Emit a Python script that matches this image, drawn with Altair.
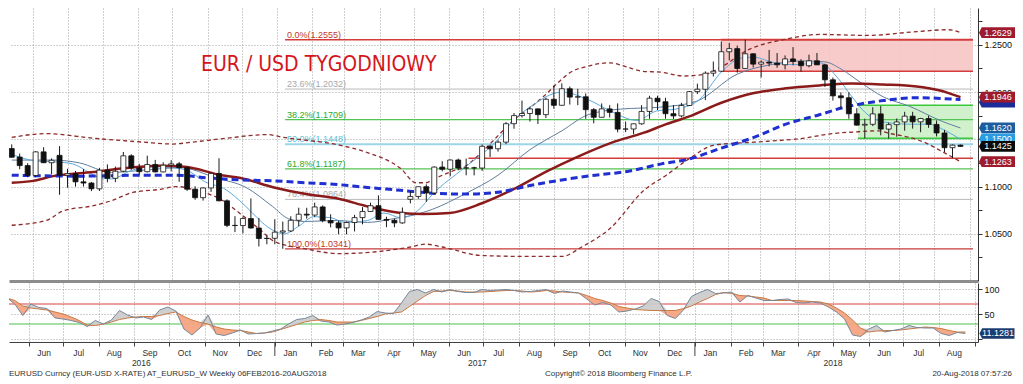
import altair as alt
import pandas as pd
import numpy as np

# ---------------- layout ----------------
W, HT, HB = 969, 273, 59
BASE = pd.Timestamp("2017-01-06")          # week index 0 (Friday)
END = pd.Timestamp("2018-09-04")


def wk(k):
    return BASE + pd.to_timedelta(np.asarray(k, dtype=float) * 7, unit="D")


# ---------------- candles (weekly, week index -34 .. 85) ----------------
weeks = list(range(-34, 86))
opens = [1.1402, 1.1312, 1.1222, 1.1117, 1.1367, 1.1252, 1.1330, 1.1118, 1.1136, 1.1050,
         1.1037, 1.0976, 1.1174, 1.1087, 1.1162, 1.1325, 1.1197, 1.1157, 1.1233, 1.1155,
         1.1226, 1.1240, 1.1200, 1.0972, 1.0882, 1.0985, 1.1139, 1.0849, 1.0589, 1.0587,
         1.0661, 1.0561, 1.0450, 1.0452, 1.0517, 1.0530, 1.0643, 1.0707, 1.0698, 1.0784,
         1.0640, 1.0615, 1.0562, 1.0619, 1.0671, 1.0736, 1.0797, 1.0652, 1.0643, 1.0615,
         1.0865, 1.0895, 1.0998, 1.0932, 1.1206, 1.1183, 1.1281, 1.1196, 1.1198, 1.1196,
         1.1426, 1.1400, 1.1470, 1.1665, 1.1751, 1.1773, 1.1822, 1.1761, 1.1924, 1.1860,
         1.2035, 1.1947, 1.1950, 1.1814, 1.1733, 1.1822, 1.1785, 1.1608, 1.1609, 1.1664,
         1.1795, 1.1935, 1.1898, 1.1771, 1.1748, 1.1858, 1.2005, 1.2030, 1.2200, 1.2221,
         1.2427, 1.2460, 1.2250, 1.2405, 1.2296, 1.2317, 1.2307, 1.2289, 1.2351, 1.2324,
         1.2279, 1.2331, 1.2288, 1.2130, 1.1960, 1.1940, 1.1770, 1.1650, 1.1659, 1.1769,
         1.1608, 1.1655, 1.1684, 1.1745, 1.1685, 1.1720, 1.1658, 1.1567, 1.1411, 1.1438]
highs = [1.1446, 1.1349, 1.1247, 1.1374, 1.1416, 1.1298, 1.1428, 1.1188, 1.1165, 1.1185,
         1.1048, 1.1198, 1.1234, 1.1212, 1.1366, 1.1341, 1.1240, 1.1327, 1.1282, 1.1257,
         1.1279, 1.1260, 1.1210, 1.1003, 1.0990, 1.1146, 1.1300, 1.0865, 1.0686, 1.0677,
         1.0874, 1.0668, 1.0480, 1.0654, 1.0629, 1.0685, 1.0776, 1.0775, 1.0829, 1.0800,
         1.0706, 1.0640, 1.0630, 1.0700, 1.0782, 1.0829, 1.0906, 1.0680, 1.0660, 1.0778,
         1.0951, 1.0999, 1.1023, 1.1213, 1.1268, 1.1285, 1.1296, 1.1296, 1.1209, 1.1445,
         1.1445, 1.1490, 1.1683, 1.1777, 1.1910, 1.1845, 1.1826, 1.1941, 1.2070, 1.2092,
         1.2059, 1.2034, 1.1985, 1.1830, 1.1880, 1.1861, 1.1880, 1.1688, 1.1666, 1.1861,
         1.1961, 1.1961, 1.1940, 1.1863, 1.1886, 1.2012, 1.2089, 1.2219, 1.2323, 1.2536,
         1.2520, 1.2492, 1.2555, 1.2412, 1.2336, 1.2446, 1.2413, 1.2388, 1.2476, 1.2348,
         1.2396, 1.2414, 1.2300, 1.2154, 1.1996, 1.1997, 1.1830, 1.1718, 1.1840, 1.1852,
         1.1676, 1.1720, 1.1791, 1.1791, 1.1727, 1.1750, 1.1700, 1.1600, 1.1445, 1.1445]
lows = [1.1308, 1.1183, 1.1098, 1.1098, 1.1250, 1.1131, 1.0912, 1.0987, 1.0999, 1.1000,
        1.0952, 1.0953, 1.1045, 1.1046, 1.1151, 1.1176, 1.1123, 1.1150, 1.1150, 1.1150,
        1.1160, 1.1050, 1.0954, 1.0860, 1.0851, 1.0943, 1.0844, 1.0569, 1.0518, 1.0505,
        1.0554, 1.0366, 1.0389, 1.0389, 1.0341, 1.0519, 1.0580, 1.0660, 1.0678, 1.0622,
        1.0568, 1.0495, 1.0494, 1.0525, 1.0600, 1.0733, 1.0649, 1.0570, 1.0570, 1.0606,
        1.0822, 1.0870, 1.0839, 1.0911, 1.1161, 1.1109, 1.1172, 1.1119, 1.1118, 1.1166,
        1.1312, 1.1370, 1.1448, 1.1612, 1.1730, 1.1688, 1.1662, 1.1725, 1.1823, 1.1858,
        1.1868, 1.1861, 1.1717, 1.1669, 1.1730, 1.1731, 1.1574, 1.1576, 1.1553, 1.1654,
        1.1717, 1.1810, 1.1718, 1.1716, 1.1733, 1.1852, 1.1979, 1.1915, 1.2165, 1.2212,
        1.2335, 1.2206, 1.2245, 1.2260, 1.2154, 1.2272, 1.2257, 1.2240, 1.2284, 1.2215,
        1.2262, 1.2287, 1.2055, 1.1910, 1.1823, 1.1717, 1.1646, 1.1510, 1.1640, 1.1542,
        1.1508, 1.1527, 1.1591, 1.1613, 1.1575, 1.1621, 1.1530, 1.1365, 1.1301, 1.1420]
closes = [1.1310, 1.1222, 1.1117, 1.1367, 1.1252, 1.1278, 1.1118, 1.1136, 1.1050, 1.1037,
          1.0976, 1.1174, 1.1087, 1.1162, 1.1325, 1.1197, 1.1157, 1.1233, 1.1155, 1.1226,
          1.1240, 1.1200, 1.0972, 1.0882, 1.0985, 1.1139, 1.0849, 1.0589, 1.0587, 1.0661,
          1.0561, 1.0450, 1.0452, 1.0517, 1.0530, 1.0643, 1.0707, 1.0698, 1.0784, 1.0640,
          1.0615, 1.0562, 1.0619, 1.0671, 1.0736, 1.0797, 1.0652, 1.0643, 1.0615, 1.0727,
          1.0895, 1.0998, 1.0932, 1.1206, 1.1183, 1.1281, 1.1196, 1.1198, 1.1196, 1.1426,
          1.1400, 1.1470, 1.1665, 1.1751, 1.1773, 1.1822, 1.1761, 1.1924, 1.1860, 1.2035,
          1.1947, 1.1950, 1.1814, 1.1733, 1.1822, 1.1785, 1.1608, 1.1609, 1.1664, 1.1795,
          1.1935, 1.1898, 1.1771, 1.1748, 1.1858, 1.2005, 1.2030, 1.2200, 1.2221, 1.2427,
          1.2460, 1.2250, 1.2405, 1.2296, 1.2317, 1.2307, 1.2289, 1.2351, 1.2324, 1.2279,
          1.2331, 1.2288, 1.2130, 1.1960, 1.1940, 1.1770, 1.1650, 1.1659, 1.1769, 1.1608,
          1.1655, 1.1684, 1.1745, 1.1685, 1.1720, 1.1658, 1.1567, 1.1411, 1.1438, 1.1425]

# ---------------- indicator lines (week index, value) ----------------
ub_k = [-34, -29.7, -23.6, -17.5, -13.8, -11.4, -7.2, -2.0, 0.1, 7.0, 10.6, 14.8, 16.7, 17.9, 19.2,
        21.2, 22.8, 24.9, 27.6, 29.2, 30.8, 32.8, 34.4, 36.1, 38.1, 41.0, 43.0, 45.1, 47.5, 50.2,
        53.0, 55.1, 58.2, 63.1, 67.3, 73.4, 79.5, 83.5, 85.0]
ub_v = [1.152, 1.156, 1.151, 1.147, 1.145, 1.147, 1.151, 1.155, 1.152, 1.144, 1.136, 1.119, 1.104,
        1.104, 1.109, 1.116, 1.121, 1.136, 1.159, 1.172, 1.182, 1.196, 1.209, 1.221, 1.227, 1.231,
        1.227, 1.222, 1.221, 1.217, 1.219, 1.227, 1.244, 1.256, 1.261, 1.260, 1.264, 1.266, 1.263]
lb_k = [-34, -29.7, -27.6, -23.6, -21.5, -18.7, -15.4, -13.3, -10.9, -7.7, -5.3, -2.8, -1.1, 2.9,
        7.0, 11.8, 16.0, 17.9, 20.0, 24.9, 31.0, 35.0, 37.5, 41.1, 45.3, 48.1, 50.9, 54.2, 59.1,
        65.2, 68.9, 72.2, 74.6, 76.2, 78.6, 80.7, 82.7, 85.0]
lb_v = [1.059, 1.064, 1.074, 1.080, 1.085, 1.094, 1.097, 1.100, 1.096, 1.086, 1.071, 1.054, 1.042,
        1.034, 1.029, 1.031, 1.036, 1.039, 1.036, 1.027, 1.026, 1.026, 1.036, 1.056, 1.096, 1.112,
        1.129, 1.144, 1.147, 1.151, 1.156, 1.158, 1.159, 1.156, 1.152, 1.146, 1.137, 1.1263]
fast_k = [-34, -30.9, -28.4, -26.4, -23.1, -21.5, -19.0, -16.6, -14.2, -12.3, -9.5, -7.4, -5.4, -3.8,
          -2.6, -1.3, 0.2, 2.0, 3.9, 6.0, 7.8, 10.6, 12.7, 14.8, 17.0, 18.8, 22.8, 27.0, 28.9, 31.0,
          35.0, 38.3, 41.1, 44.4, 46.9, 49.3, 52.1, 55.1, 57.5, 59.1, 61.2, 64.0, 67.3, 69.7, 71.3,
          73.1, 75.6, 78.6, 81.1, 82.9, 85.0]
fast_v = [1.134, 1.127, 1.126, 1.124, 1.110, 1.108, 1.117, 1.121, 1.120, 1.118, 1.104, 1.098, 1.085,
          1.072, 1.062, 1.054, 1.050, 1.058, 1.068, 1.067, 1.062, 1.064, 1.072, 1.067, 1.075, 1.092,
          1.120, 1.150, 1.170, 1.184, 1.200, 1.192, 1.180, 1.170, 1.180, 1.182, 1.191, 1.222, 1.236,
          1.237, 1.232, 1.229, 1.231, 1.214, 1.196, 1.178, 1.168, 1.166, 1.166, 1.160, 1.150]
slow_k = [-34, -28.8, -25.5, -21.5, -16.6, -12.9, -8.3, -4.6, -1.3, 0.7, 2.7, 6.8, 10.6, 13.9, 16.0,
          18.8, 22.8, 27.0, 31.0, 35.0, 38.3, 42.4, 47.3, 51.8, 57.0, 61.2, 65.2, 68.0, 70.1, 72.5,
          75.3, 78.6, 82.7, 85.0]
slow_v = [1.128, 1.128, 1.125, 1.115, 1.118, 1.120, 1.109, 1.099, 1.079, 1.066, 1.063, 1.064, 1.062,
          1.066, 1.069, 1.076, 1.092, 1.112, 1.139, 1.159, 1.176, 1.182, 1.184, 1.190, 1.219, 1.229,
          1.233, 1.232, 1.224, 1.210, 1.195, 1.185, 1.169, 1.162]
red_k = [-34, -31.3, -28.8, -25.5, -23.1, -20.3, -15.4, -12.3, -7.7, -5.3, -1.1, 2.9, 7.0, 10.6, 14.8,
         17.6, 20.9, 24.9, 28.9, 33.1, 37.1, 41.1, 45.3, 48.1, 50.9, 55.1, 59.1, 63.1, 67.3, 71.3,
         75.3, 79.5, 82.3, 85.0]
red_v = [1.104, 1.106, 1.111, 1.114, 1.116, 1.119, 1.122, 1.121, 1.112, 1.109, 1.099, 1.092, 1.087,
         1.079, 1.072, 1.071, 1.072, 1.082, 1.097, 1.116, 1.132, 1.146, 1.157, 1.166, 1.174, 1.189,
         1.199, 1.204, 1.207, 1.209, 1.208, 1.206, 1.202, 1.1946]
blue_k = [-34, -25.5, -17.5, -13.3, -9.3, -5.3, -1.1, 2.9, 7.0, 10.6, 14.8, 18.8, 22.8, 27.0, 31.0,
          35.0, 39.2, 43.2, 47.5, 50.9, 55.1, 59.1, 63.1, 67.3, 70.5, 72.2, 75.3, 79.5, 85.0]
blue_v = [1.112, 1.111, 1.112, 1.112, 1.109, 1.107, 1.106, 1.104, 1.102, 1.099, 1.096, 1.093, 1.092,
          1.094, 1.101, 1.107, 1.112, 1.116, 1.124, 1.129, 1.141, 1.152, 1.166, 1.176, 1.184, 1.187,
          1.191, 1.194, 1.192]

# ---------------- stochastic (weekly) ----------------
stoch_k = [83, 70, 47, 70, 63, 61, 42, 40, 37, 33,
           25, 37, 30, 38, 57, 48, 42, 44, 39, 58,
           64, 56, 20, 8, 22, 48, 10, 7, 12, 18,
           10, 11, 12, 16, 20, 30, 39, 41, 47, 36,
           34, 28, 30, 33, 38, 44, 55, 52, 51, 72,
           95, 99, 92, 99, 94, 99, 95, 93, 93, 99,
           97, 98, 99, 97, 94, 95, 97, 99, 91, 96,
           94, 92, 80, 68, 73, 68, 54, 56, 60, 66,
           81, 75, 47, 41, 58, 85, 93, 99, 91, 92,
           94, 74, 87, 82, 77, 77, 79, 80, 73, 72,
           74, 72, 64, 54, 40, 8, 5, 20, 27, 14,
           17, 20, 27, 23, 22, 22, 11, 7, 13, 11.13]
stoch_d = [82, 77, 66, 62, 60, 58, 54, 50, 44, 37,
           28, 27, 30, 34, 39, 42, 44, 45, 45, 47,
           51, 54, 45, 38, 33, 30, 24, 20, 18, 17,
           14, 11, 12, 14, 19, 24, 29, 34, 37, 39,
           37, 34, 34, 34, 37, 41, 45, 50, 52, 54,
           65, 76, 87, 95, 96, 97, 96, 94, 94, 94,
           95, 96, 97, 97, 96, 94, 95, 97, 96, 94,
           93, 92, 87, 81, 77, 72, 65, 62, 59, 58,
           57, 57, 57, 57, 61, 66, 74, 81, 89, 93,
           91, 87, 86, 84, 82, 77, 77, 77, 77, 76,
           75, 74, 70, 62, 52, 38, 22, 14, 16, 17,
           17, 18, 20, 22, 24, 23, 21, 17, 14, 14]

# ---------------- annotations ----------------
fib_labels = ["0.0%(1.2555)", "23.6%(1.2032)", "38.2%(1.1709)", "50.0%(1.1448)",
              "61.8%(1.1187)", "76.4%(1.0864)", "100.0%(1.0341)"]
fib_values = [1.2555, 1.2032, 1.1709, 1.1448, 1.1187, 1.0864, 1.0341]
fib_line_colors = ["#d43c3c", "#b8b8b8", "#55c455", "#9ad6e8", "#55c455", "#b8b8b8", "#c83a3a"]
fib_text_colors = ["#c0392b", "#a8a8a8", "#2ea82e", "#5cc2d6", "#2ea82e", "#a8a8a8", "#c0392b"]
fib_widths = [1.5, 1.0, 1.2, 2.0, 1.2, 1.0, 1.2]
fib_start = "2017-01-08"
support_value, support_start = 1.1300, "2017-06-18"
red_zone = {"start": "2018-01-26", "lo": 1.2220, "hi": 1.2555}
green_zone = {"start": "2018-05-26", "lo": 1.1510, "hi": 1.1860}

# right-hand value tags (an empty text = tag hidden under the next one, as in the original)
right_text = ["1.2629", "", "1.1946", "1.1620", "1.1500", "1.1425", "1.1263"]
right_value = [1.2629, 1.1893, 1.1946, 1.1620, 1.1503, 1.1425, 1.1263]
right_color = ["#9e1a2c", "#1b2b9a", "#9e1a2c", "#1f5c9e", "#2c9ce0", "#0a0a0a", "#9e1a2c"]

y_ticks = [1.025, 1.05, 1.075, 1.10, 1.125, 1.15, 1.175, 1.20, 1.225, 1.25, 1.275]
y_hidden_labels = [1.15]          # axis label covered by a value tag in the original
year_labels = ["2016", "2017", "2018"]
year_label_dates = ["2016-09-07", "2017-06-26", "2018-05-01"]
year_starts = ["2017-01-01", "2018-01-01"]
title_text = "EUR / USD TYGODNIOWY"
footer_left = "EURUSD Curncy (EUR-USD X-RATE) AT_EURUSD_W  Weekly 06FEB2016-20AUG2018"
footer_mid = "Copyright\u00a9 2018 Bloomberg Finance L.P."
footer_right = "20-Aug-2018 07:57:26"

# ---------------- scales & axes ----------------
FONT = "Liberation Sans"
TITLE_FONT = "DejaVu Sans Condensed, Liberation Sans Narrow, Roboto, sans-serif"
xs = alt.Scale(domain=[alt.DateTime(year=2016, month=5, date=15),
                       alt.DateTime(year=2018, month=9, date=4)])
ys = alt.Scale(domain=[1.0, 1.289], nice=False, zero=False)
ysb = alt.Scale(domain=[-6, 112], nice=False, zero=False)
MONTHS = {"interval": "month", "step": 1}
major = "round(datum.value*1000) % 50 == 0"
hidden = " || ".join(f"round(datum.value*1000) == {round(v * 1000)}" for v in y_hidden_labels)

x_top_axis = alt.Axis(title=None, labels=False, ticks=False, domain=True, domainColor="#8c8c8c",
                      domainWidth=3, grid=True, gridDash=[1, 2], gridColor="#a0a0a0",
                      tickCount=MONTHS)
y_top_axis = alt.Axis(title=None, orient="right", values=y_ticks,
                      labelExpr=f"(({major}) && !({hidden})) ? format(datum.value, '.4f') : ''",
                      grid=True, gridDash=[1, 2], gridColor="#a0a0a0",
                      gridOpacity={"condition": {"test": major, "value": 1}, "value": 0},
                      tickSize=4, tickColor="#333333", domainColor="#333333",
                      labelFont=FONT, labelFontSize=9, labelColor="#111111", labelPadding=2)
x_bot_axis = alt.Axis(title=None, format="%b", tickCount=MONTHS, labelOffset=15,
                      labelExpr="datum.value > datetime(2018, 7, 20) ? '' : datum.label",
                      grid=True, gridDash=[1, 2], gridColor="#a0a0a0", tickSize=4,
                      tickColor="#404040", domainColor="#404040", labelFont=FONT,
                      labelFontSize=8.5, labelColor="#303030", labelPadding=2,
                      labelOverlap=False, labelFlush=False)
y_bot_axis = alt.Axis(title=None, orient="right", values=[0, 50, 100], grid=True,
                      labelExpr="datum.value == 0 ? '' : datum.label",
                      gridDash=[1, 2], gridColor="#a0a0a0", tickSize=4, tickColor="#333333",
                      domainColor="#333333", labelFont=FONT, labelFontSize=9,
                      labelColor="#111111", labelPadding=2)


def X(f="date"):
    return alt.X(f"{f}:T", scale=xs, axis=x_top_axis)


def Y(f):
    return alt.Y(f"{f}:Q", scale=ys, axis=y_top_axis)


def XB(f="date"):
    return alt.X(f"{f}:T", scale=xs, axis=x_bot_axis)


def YB(f):
    return alt.Y(f"{f}:Q", scale=ysb, axis=y_bot_axis)


# ---------------- data frames ----------------
candles = pd.DataFrame({"date": wk(weeks), "o": opens, "h": highs, "l": lows, "c": closes})
candles["blo"] = candles[["o", "c"]].min(axis=1)
candles["bhi"] = candles[["o", "c"]].max(axis=1)


def series(k, v):
    return pd.DataFrame({"date": wk(k), "v": v})


bands = pd.concat([series(ub_k, ub_v).assign(s="up"), series(lb_k, lb_v).assign(s="lo")])
fib_df = pd.DataFrame({"start": pd.to_datetime([fib_start] * 7), "end": [END] * 7,
                       "v": fib_values, "label": fib_labels, "lc": fib_line_colors,
                       "tc": fib_text_colors, "w": fib_widths})


def zone_df(z):
    return pd.DataFrame({"start": [pd.Timestamp(z["start"])], "end": [END],
                         "lo": [z["lo"]], "hi": [z["hi"]]})


def zone_edges(z):
    return pd.DataFrame({"start": [pd.Timestamp(z["start"])] * 2, "end": [END] * 2,
                         "v": [z["lo"], z["hi"]]})


# ---------------- top panel ----------------
layers = []
layers.append(alt.Chart(zone_df(red_zone)).mark_rect(fill="#f7c5c5", opacity=0.9).encode(
    x=X("start"), x2="end:T", y=Y("lo"), y2="hi:Q"))
layers.append(alt.Chart(zone_df(green_zone)).mark_rect(fill="#ccf0c8", opacity=0.9).encode(
    x=X("start"), x2="end:T", y=Y("lo"), y2="hi:Q"))
layers.append(alt.Chart(fib_df).mark_rule().encode(
    x=X("start"), x2="end:T", y=Y("v"), color=alt.Color("lc:N", scale=None),
    strokeWidth=alt.StrokeWidth("w:Q", scale=None)))
layers.append(alt.Chart(fib_df).mark_text(align="left", baseline="bottom", dx=2, dy=0,
                                          font=FONT, fontSize=9).encode(
    x=X("start"), y=Y("v"), text="label:N", color=alt.Color("tc:N", scale=None)))
layers.append(alt.Chart(zone_edges(red_zone)).mark_rule(color="#d43c3c", strokeWidth=1.6).encode(
    x=X("start"), x2="end:T", y=Y("v")))
layers.append(alt.Chart(zone_edges(green_zone)).mark_rule(color="#3cc83c", strokeWidth=1.6).encode(
    x=X("start"), x2="end:T", y=Y("v")))
layers.append(alt.Chart(pd.DataFrame({"start": [pd.Timestamp(support_start)], "end": [END],
                                      "v": [support_value]})).mark_rule(
    color="#d43c3c", strokeWidth=1.5).encode(x=X("start"), x2="end:T", y=Y("v")))
layers.append(alt.Chart(bands).mark_line(color="#8e2b2b", strokeWidth=1.3, strokeDash=[4, 3],
                                         interpolate="monotone", clip=True).encode(
    x=X(), y=Y("v"), detail="s:N"))
layers.append(alt.Chart(series(slow_k, slow_v)).mark_line(
    color="#5f7d9e", strokeWidth=1, interpolate="monotone", clip=True).encode(x=X(), y=Y("v")))
layers.append(alt.Chart(series(fast_k, fast_v)).mark_line(
    color="#5aaade", strokeWidth=1, interpolate="monotone", clip=True).encode(x=X(), y=Y("v")))
layers.append(alt.Chart(series(red_k, red_v)).mark_line(
    color="#8b1a1a", strokeWidth=2.5, interpolate="monotone", clip=True).encode(x=X(), y=Y("v")))
layers.append(alt.Chart(series(blue_k, blue_v)).mark_line(
    color="#1f2fd0", strokeWidth=3, strokeDash=[7, 4], interpolate="monotone",
    clip=True).encode(x=X(), y=Y("v")))
layers.append(alt.Chart(candles).mark_rule(color="#1a1a1a", strokeWidth=1, clip=True).encode(
    x=X(), y=Y("l"), y2="h:Q"))
layers.append(alt.Chart(candles).mark_bar(size=5, stroke="#111111", strokeWidth=0.8,
                                          clip=True).encode(
    x=X(), y=Y("blo"), y2="bhi:Q",
    fill=alt.condition("datum.c >= datum.o", alt.value("white"), alt.value("#111111"))))
layers.append(alt.Chart(pd.DataFrame({"t": [title_text]})).mark_text(
    align="left", baseline="alphabetic", font=TITLE_FONT, fontSize=21,
    color="#d4161c").encode(x=alt.value(192), y=alt.value(63), text="t:N"))

BOX = "M-0.85,-0.3L1,-0.3L1,0.3L-0.85,0.3L-1,0Z"
for t, v, c in zip(right_text, right_value, right_color):
    d = pd.DataFrame({"v": [v], "t": [t]})
    layers.append(alt.Chart(d).mark_point(shape=BOX, size=1296, filled=True, opacity=1,
                                          fill=c, strokeWidth=0).encode(
        x=alt.value(W + 19), y=Y("v")))
    if t:
        layers.append(alt.Chart(d).mark_text(font=FONT, fontSize=9, color="white",
                                             align="center", baseline="middle").encode(
            x=alt.value(W + 20), y=Y("v"), text="t:N"))

top = alt.layer(*layers).properties(width=W, height=HT)

# ---------------- bottom panel ----------------
stoch = pd.DataFrame({"date": wk(weeks), "K": stoch_k, "D": stoch_d})
bl = []
bl.append(alt.Chart(pd.DataFrame({"v": [70, 30], "c": ["#d94040", "#4cbf4c"]})).mark_rule(
    strokeWidth=1).encode(y=YB("v"), color=alt.Color("c:N", scale=None)))
bl.append(alt.Chart(stoch).transform_calculate(hi="max(datum.K, datum.D)").mark_area(
    color="#cccccc", opacity=0.95, clip=True).encode(x=XB(), y=YB("hi"), y2="D:Q"))
bl.append(alt.Chart(stoch).transform_calculate(lo="min(datum.K, datum.D)").mark_area(
    color="#f5a47f", opacity=0.95, clip=True).encode(x=XB(), y=YB("D"), y2="lo:Q"))
bl.append(alt.Chart(stoch).mark_line(color="#c87a45", strokeWidth=1, clip=True).encode(
    x=XB(), y=YB("D")))
bl.append(alt.Chart(stoch).mark_line(color="#77879a", strokeWidth=1, clip=True).encode(
    x=XB(), y=YB("K")))
last = pd.DataFrame({"v": [stoch_k[-1]], "t": ["11.1281"]})
bl.append(alt.Chart(last).mark_point(shape=BOX, size=1225, filled=True, opacity=1,
                                     fill="#1b3c6e", strokeWidth=0).encode(
    x=alt.value(W + 19), y=YB("v")))
bl.append(alt.Chart(last).mark_text(font=FONT, fontSize=9, color="white", align="center",
                                    baseline="middle").encode(
    x=alt.value(W + 20), y=YB("v"), text="t:N"))
bl.append(alt.Chart(pd.DataFrame({"date": pd.to_datetime(year_starts)})).mark_rule(
    color="#404040", strokeWidth=1).encode(x=XB(), y=alt.value(HB), y2=alt.value(HB + 14)))
bl.append(alt.Chart(pd.DataFrame({"date": pd.to_datetime(year_label_dates),
                                  "t": year_labels})).mark_text(
    font=FONT, fontSize=8.5, color="#303030", baseline="middle").encode(
    x=XB(), y=alt.value(HB + 21), text="t:N"))
for txt, xp, al in [(footer_left, 0, "left"), (footer_mid, 536, "left"),
                    (footer_right, 1003, "right")]:
    bl.append(alt.Chart(pd.DataFrame({"t": [txt]})).mark_text(
        font=FONT, fontSize=8, color="#303030", align=al, baseline="middle").encode(
        x=alt.value(xp), y=alt.value(HB + 32), text="t:N"))

bottom = alt.layer(*bl).properties(width=W, height=HB)

chart = alt.vconcat(top, bottom, spacing=2).properties(
    padding=0, background="white").configure_view(stroke=None)

chart.save("out.html", embed_options={"renderer": "svg", "actions": False})
